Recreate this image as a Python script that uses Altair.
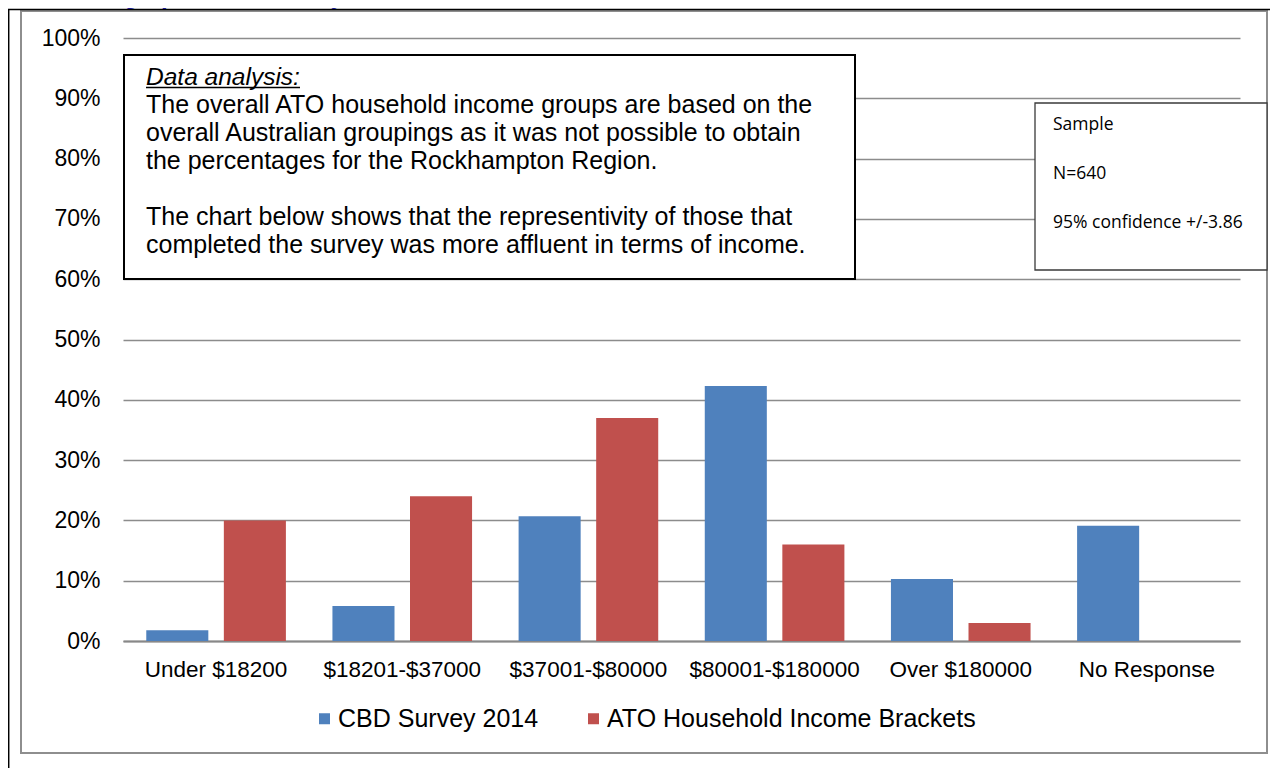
import altair as alt
import pandas as pd

# ---------------- data ----------------
categories = ["Under $18200", "$18201-$37000", "$37001-$80000",
              "$80001-$180000", "Over $180000", "No Response"]
series = ["CBD Survey 2014", "ATO Household Income Brackets"]
cbd_survey = [1.8, 5.8, 20.7, 42.3, 10.3, 19.1]
ato_brackets = [20.0, 24.0, 37.0, 16.0, 3.0, None]
series_colors = ["#4F81BD", "#C0504D"]
y_ticks = [0, 10, 20, 30, 40, 50, 60, 70, 80, 90, 100]

title_text = "Demographics: What is your household income bracket?"
analysis_heading = "Data analysis:"
analysis_para1 = [
    "The overall ATO household income groups are based on the",
    "overall Australian groupings as it was not possible to obtain",
    "the percentages for the Rockhampton Region.",
]
analysis_para2 = [
    "The chart below shows that the representivity of those that",
    "completed the survey was more affluent in terms of income.",
]
sample_lines = ["Sample", "N=640", "95% confidence +/-3.86"]

rows = []
for cat, v in zip(categories, cbd_survey):
    rows.append({"category": cat, "series": series[0], "value": v})
for cat, v in zip(categories, ato_brackets):
    if v is not None:
        rows.append({"category": cat, "series": series[1], "value": v})
df = pd.DataFrame(rows)

FONT = "Liberation Sans"
one = pd.DataFrame({"k": [0]})

# ---------------- bars ----------------
bars = alt.Chart(df).mark_bar().encode(
    x=alt.X("category:N", sort=categories,
            scale=alt.Scale(paddingInner=0, paddingOuter=0),
            axis=alt.Axis(title=None, labelAngle=0, ticks=False, tickSize=0,
                          labelPadding=17, labelFontSize=22.5, labelFont=FONT,
                          labelColor="black", domainColor="#888888",
                          domainWidth=2, grid=False, labelLimit=0)),
    xOffset=alt.XOffset("series:N", sort=series,
                        scale=alt.Scale(paddingInner=0.2, paddingOuter=0.3)),
    y=alt.Y("value:Q", scale=alt.Scale(domain=[0, 100], nice=False),
            axis=alt.Axis(title=None, values=y_ticks,
                          labelExpr="datum.value + '%'", ticks=False,
                          tickSize=0, domain=False, grid=True,
                          gridColor="#8c8c8c", gridWidth=1.5,
                          labelPadding=23, labelFontSize=23, labelFont=FONT,
                          labelColor="black")),
    color=alt.Color("series:N", sort=series,
                    scale=alt.Scale(domain=series, range=series_colors),
                    legend=alt.Legend(orient="none", legendX=189, legendY=668,
                                      direction="horizontal", title=None,
                                      symbolType="square", symbolSize=121,
                                      symbolStrokeWidth=0, labelFontSize=25,
                                      labelFont=FONT, labelColor="black",
                                      labelOffset=1, columnPadding=42,
                                      padding=0, labelLimit=0)),
)

# ---------------- decorations ----------------
outer_box = alt.Chart(one).mark_rect(fill="transparent", stroke="#8e8e8e",
                                     strokeWidth=2).encode(
    x=alt.value(-102), x2=alt.value(1144), y=alt.value(-27), y2=alt.value(715))

top_line = alt.Chart(one).mark_rule(color="black", strokeWidth=1.5).encode(
    x=alt.value(-117), x2=alt.value(1150), y=alt.value(-28.5))
left_line = alt.Chart(one).mark_rule(color="black", strokeWidth=1.5).encode(
    x=alt.value(-114.3), y=alt.value(-28.5), y2=alt.value(730))

title_mark = alt.Chart(one).mark_text(
    align="left", baseline="alphabetic", fontSize=24, fontWeight="bold",
    font=FONT, color="#1B1B8F").encode(
    x=alt.value(-66), y=alt.value(-34), text=alt.value(title_text))

analysis_box = alt.Chart(one).mark_rect(fill="white", stroke="black",
                                        strokeWidth=2).encode(
    x=alt.value(1), x2=alt.value(732), y=alt.value(17), y2=alt.value(241))

heading = alt.Chart(one).mark_text(
    align="left", baseline="alphabetic", fontSize=24.5, fontStyle="italic",
    font=FONT, color="black").encode(
    x=alt.value(23), y=alt.value(47), text=alt.value(analysis_heading))
underline = alt.Chart(one).mark_rule(color="black", strokeWidth=1.3).encode(
    x=alt.value(23), x2=alt.value(177), y=alt.value(49.5))

text1 = alt.Chart(one).mark_text(
    align="left", baseline="alphabetic", fontSize=25, lineHeight=28,
    font=FONT, color="black").encode(
    x=alt.value(23), y=alt.value(75), text=alt.value(analysis_para1))
text2 = alt.Chart(one).mark_text(
    align="left", baseline="alphabetic", fontSize=25, lineHeight=28,
    font=FONT, color="black").encode(
    x=alt.value(23), y=alt.value(187), text=alt.value(analysis_para2))

sample_box = alt.Chart(one).mark_rect(fill="white", stroke="#3a3a3a",
                                      strokeWidth=1.3).encode(
    x=alt.value(912), x2=alt.value(1144), y=alt.value(65), y2=alt.value(232))
sample_text = alt.Chart(one).mark_text(
    align="left", baseline="alphabetic", fontSize=17.5, lineHeight=49,
    font="Open Sans", color="black").encode(
    x=alt.value(930), y=alt.value(92), text=alt.value(sample_lines))

chart = alt.layer(
    bars, outer_box, top_line, left_line, title_mark,
    analysis_box, heading, underline, text1, text2,
    sample_box, sample_text,
).properties(
    width=1117, height=603,
    autosize=alt.AutoSizeParams(type="none"),
    padding={"left": 115, "top": 30, "right": 30, "bottom": 127},
    background="white",
).configure_view(stroke=None)

chart.save("out.html", embed_options={"renderer": "svg", "actions": False})
